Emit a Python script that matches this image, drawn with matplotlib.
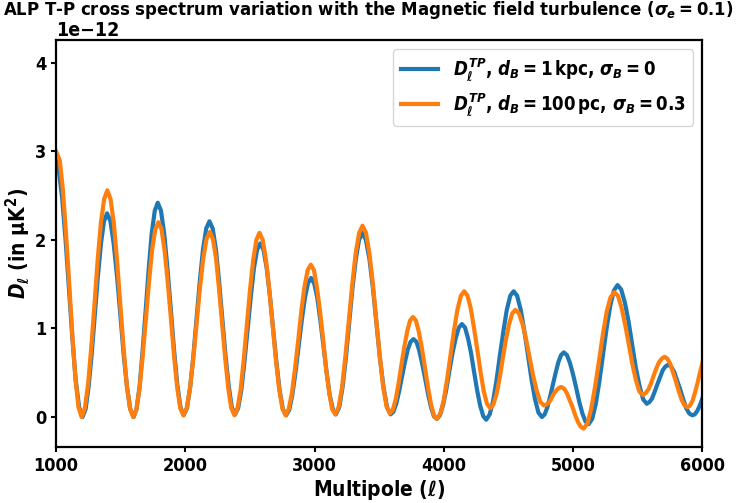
import matplotlib
matplotlib.use('Agg')
import matplotlib.pyplot as plt

# ALP T-P cross spectrum, two magnetic field configurations (units of 1e-12 muK^2)
ell_blue = [1000, 1021, 1047, 1074, 1100, 1126, 1152, 1179, 1205,
            1229, 1252, 1276, 1300, 1324, 1348, 1371, 1395,
            1421, 1446, 1472, 1498, 1523, 1549, 1574, 1600,
            1623, 1647, 1670, 1694, 1717, 1740, 1764, 1787,
            1812, 1837, 1862, 1888, 1913, 1938, 1963, 1988,
            2013, 2038, 2063, 2088, 2112, 2137, 2162, 2187,
            2212, 2237, 2261, 2286, 2311, 2336, 2360, 2385,
            2409, 2434, 2458, 2483, 2507, 2531, 2556, 2580,
            2605, 2630, 2655, 2680, 2705, 2730, 2755, 2780,
            2804, 2828, 2852, 2877, 2901, 2925, 2949, 2973,
            2997, 3021, 3045, 3069, 3093, 3117, 3141, 3165,
            3191, 3216, 3242, 3268, 3293, 3319, 3344, 3370,
            3397, 3425, 3452, 3479, 3506, 3534, 3561, 3588,
            3610, 3632, 3654, 3677, 3699, 3721, 3743, 3765,
            3788, 3810, 3833, 3856, 3878, 3901, 3923, 3946,
            3970, 3995, 4019, 4043, 4067, 4092, 4116, 4140,
            4164, 4187, 4211, 4234, 4258, 4281, 4305, 4328,
            4355, 4381, 4408, 4434, 4461, 4487, 4514, 4540,
            4567, 4595, 4622, 4650, 4677, 4704, 4732, 4759,
            4780, 4801, 4822, 4844, 4865, 4886, 4907, 4928,
            4952, 4976, 5000, 5024, 5048, 5072, 5096, 5120,
            5148, 5176, 5204, 5232, 5260, 5288, 5316, 5344,
            5372, 5401, 5429, 5457, 5485, 5514, 5542, 5570,
            5591, 5611, 5632, 5652, 5673, 5694, 5714, 5735,
            5758, 5782, 5805, 5829, 5852, 5875, 5899, 5922,
            5941, 5961, 5980, 6000]
dl_blue = [2.90, 2.79, 2.48, 2.00, 1.45, 0.90, 0.42, 0.11, 0.00,
           0.09, 0.34, 0.71, 1.15, 1.59, 1.96, 2.21, 2.30,
           2.21, 1.96, 1.59, 1.15, 0.71, 0.34, 0.09, 0.00,
           0.09, 0.35, 0.75, 1.21, 1.67, 2.07, 2.33, 2.42,
           2.33, 2.07, 1.68, 1.22, 0.76, 0.37, 0.11, 0.02,
           0.10, 0.34, 0.70, 1.12, 1.53, 1.89, 2.13, 2.21,
           2.13, 1.89, 1.54, 1.12, 0.70, 0.35, 0.11, 0.03,
           0.10, 0.31, 0.63, 1.00, 1.36, 1.68, 1.89, 1.96,
           1.89, 1.68, 1.36, 0.99, 0.62, 0.30, 0.09, 0.02,
           0.08, 0.25, 0.50, 0.80, 1.09, 1.34, 1.51, 1.57,
           1.51, 1.35, 1.09, 0.80, 0.51, 0.25, 0.09, 0.03,
           0.11, 0.33, 0.66, 1.06, 1.45, 1.78, 2.00, 2.08,
           2.00, 1.78, 1.45, 1.06, 0.66, 0.33, 0.11, 0.03,
           0.06, 0.15, 0.29, 0.46, 0.62, 0.76, 0.85, 0.88,
           0.85, 0.75, 0.60, 0.43, 0.26, 0.11, 0.01, -0.02,
           0.02, 0.14, 0.31, 0.52, 0.72, 0.89, 1.01, 1.05,
           1.01, 0.89, 0.72, 0.51, 0.30, 0.13, 0.01, -0.03,
           0.03, 0.18, 0.42, 0.70, 0.97, 1.21, 1.37, 1.42,
           1.37, 1.21, 0.98, 0.71, 0.44, 0.21, 0.05, 0.00,
           0.03, 0.11, 0.23, 0.37, 0.50, 0.62, 0.70, 0.73,
           0.70, 0.61, 0.48, 0.33, 0.17, 0.04, -0.05, -0.08,
           -0.02, 0.15, 0.41, 0.71, 1.01, 1.26, 1.43, 1.49,
           1.44, 1.29, 1.08, 0.82, 0.56, 0.35, 0.20, 0.15,
           0.17, 0.21, 0.29, 0.37, 0.45, 0.53, 0.57, 0.59,
           0.57, 0.51, 0.41, 0.31, 0.20, 0.10, 0.04, 0.02,
           0.03, 0.07, 0.13, 0.21]

ell_orange = [1000, 1029, 1053, 1077, 1102, 1126, 1150, 1174, 1198,
              1223, 1248, 1273, 1298, 1322, 1347, 1372, 1397,
              1422, 1447, 1472, 1497, 1522, 1547, 1572, 1597,
              1621, 1646, 1670, 1695, 1719, 1743, 1768, 1792,
              1816, 1840, 1864, 1889, 1913, 1937, 1961, 1985,
              2011, 2036, 2062, 2088, 2113, 2139, 2164, 2190,
              2214, 2238, 2261, 2285, 2309, 2333, 2356, 2380,
              2404, 2429, 2453, 2477, 2501, 2526, 2550, 2574,
              2599, 2624, 2650, 2675, 2700, 2726, 2751, 2776,
              2800, 2825, 2849, 2874, 2898, 2922, 2947, 2971,
              2995, 3018, 3042, 3066, 3089, 3113, 3136, 3160,
              3186, 3213, 3239, 3266, 3292, 3318, 3345, 3371,
              3398, 3424, 3451, 3477, 3504, 3530, 3557, 3583,
              3605, 3628, 3650, 3672, 3694, 3717, 3739, 3761,
              3784, 3807, 3830, 3854, 3877, 3900, 3923, 3946,
              3973, 3999, 4026, 4052, 4079, 4105, 4132, 4158,
              4183, 4208, 4233, 4259, 4284, 4309, 4334, 4359,
              4383, 4408, 4432, 4456, 4480, 4505, 4529, 4553,
              4581, 4609, 4636, 4664, 4692, 4720, 4747, 4775,
              4792, 4809, 4825, 4842, 4859, 4876, 4892, 4909,
              4931, 4952, 4974, 4996, 5017, 5039, 5060, 5082,
              5112, 5141, 5171, 5201, 5230, 5260, 5289, 5319,
              5347, 5374, 5402, 5430, 5457, 5485, 5512, 5540,
              5561, 5582, 5603, 5624, 5644, 5665, 5686, 5707,
              5729, 5752, 5774, 5796, 5818, 5841, 5863, 5885,
              5904, 5923, 5942, 5962, 5981, 6000]
dl_orange = [3.00, 2.90, 2.57, 2.08, 1.51, 0.93, 0.44, 0.11, 0.00,
             0.10, 0.37, 0.79, 1.28, 1.77, 2.19, 2.46, 2.56,
             2.46, 2.19, 1.77, 1.28, 0.79, 0.37, 0.10, 0.00,
             0.08, 0.32, 0.68, 1.10, 1.52, 1.88, 2.12, 2.20,
             2.12, 1.88, 1.53, 1.11, 0.69, 0.34, 0.10, 0.02,
             0.10, 0.32, 0.66, 1.06, 1.45, 1.79, 2.01, 2.09,
             2.01, 1.79, 1.45, 1.06, 0.66, 0.32, 0.10, 0.02,
             0.10, 0.32, 0.66, 1.05, 1.44, 1.78, 2.00, 2.08,
             2.00, 1.78, 1.44, 1.05, 0.66, 0.32, 0.10, 0.02,
             0.09, 0.27, 0.55, 0.87, 1.20, 1.47, 1.66, 1.72,
             1.66, 1.47, 1.20, 0.88, 0.55, 0.28, 0.09, 0.03,
             0.11, 0.34, 0.69, 1.10, 1.50, 1.85, 2.08, 2.16,
             2.08, 1.85, 1.51, 1.10, 0.70, 0.35, 0.12, 0.04,
             0.08, 0.20, 0.38, 0.59, 0.79, 0.97, 1.09, 1.13,
             1.09, 0.96, 0.78, 0.56, 0.34, 0.15, 0.02, -0.02,
             0.04, 0.19, 0.43, 0.70, 0.98, 1.21, 1.37, 1.42,
             1.37, 1.23, 1.01, 0.76, 0.51, 0.29, 0.15, 0.10,
             0.14, 0.26, 0.44, 0.66, 0.87, 1.05, 1.17, 1.21,
             1.17, 1.05, 0.88, 0.67, 0.46, 0.29, 0.17, 0.13,
             0.14, 0.16, 0.19, 0.24, 0.28, 0.31, 0.33, 0.34,
             0.32, 0.27, 0.19, 0.11, 0.02, -0.06, -0.11, -0.13,
             -0.07, 0.10, 0.35, 0.64, 0.93, 1.19, 1.35, 1.41,
             1.37, 1.24, 1.05, 0.83, 0.61, 0.42, 0.29, 0.25,
             0.27, 0.31, 0.38, 0.47, 0.55, 0.62, 0.66, 0.68,
             0.66, 0.60, 0.50, 0.40, 0.29, 0.19, 0.13, 0.11,
             0.13, 0.18, 0.27, 0.38, 0.50, 0.61]

labels = [r'$D_\ell^{TP}$, $d_B = 1\,\mathrm{kpc}$, $\sigma_B = 0$',
          r'$D_\ell^{TP}$, $d_B = 100\,\mathrm{pc}$, $\sigma_B = 0.3$']

plt.rcParams['font.family'] = 'DejaVu Sans'
plt.rcParams['font.weight'] = 'bold'
plt.rcParams['font.stretch'] = 'condensed'
plt.rcParams['mathtext.fontset'] = 'custom'
plt.rcParams['mathtext.rm'] = 'DejaVu Sans:bold'
plt.rcParams['mathtext.it'] = 'DejaVu Sans:italic:bold'
plt.rcParams['mathtext.bf'] = 'DejaVu Sans:bold'

fig = plt.figure(figsize=(7.37, 5.03), dpi=100)
ax = fig.add_axes([0.076, 0.111, 0.877, 0.81])

scale = 1e-12
ax.plot(ell_blue, [v * scale for v in dl_blue], color='#1f77b4', lw=3, label=labels[0])
ax.plot(ell_orange, [v * scale for v in dl_orange], color='#ff7f0e', lw=3, label=labels[1])

ax.set_xlim(1000, 6000)
ax.set_ylim(-0.34e-12, 4.26e-12)
ax.set_xticks([1000, 2000, 3000, 4000, 5000, 6000])
ax.set_yticks([0, 1e-12, 2e-12, 3e-12, 4e-12])
ax.tick_params(labelsize=13, width=1.5)
for s in ax.spines.values():
    s.set_linewidth(1.6)
ax.yaxis.get_offset_text().set_fontsize(14)
ax.yaxis.get_offset_text().set_fontweight('bold')

ax.set_xlabel(r'Multipole ($\ell$)', fontsize=15, fontweight='bold', labelpad=2)
ax.set_ylabel(r'$D_\ell$ (in $\mathrm{\mu K^2}$)', fontsize=15, fontweight='bold', labelpad=2)
fig.text(0.5, 1 - 10 / 503,
         r'ALP T-P cross spectrum variation with the Magnetic field turbulence ($\sigma_e = 0.1$)',
         fontsize=13.2, fontweight='bold', ha='center', va='center')

ax.legend(loc='upper right', fontsize=13.4, handlelength=2.0)

fig.savefig('out.png', dpi=100)
